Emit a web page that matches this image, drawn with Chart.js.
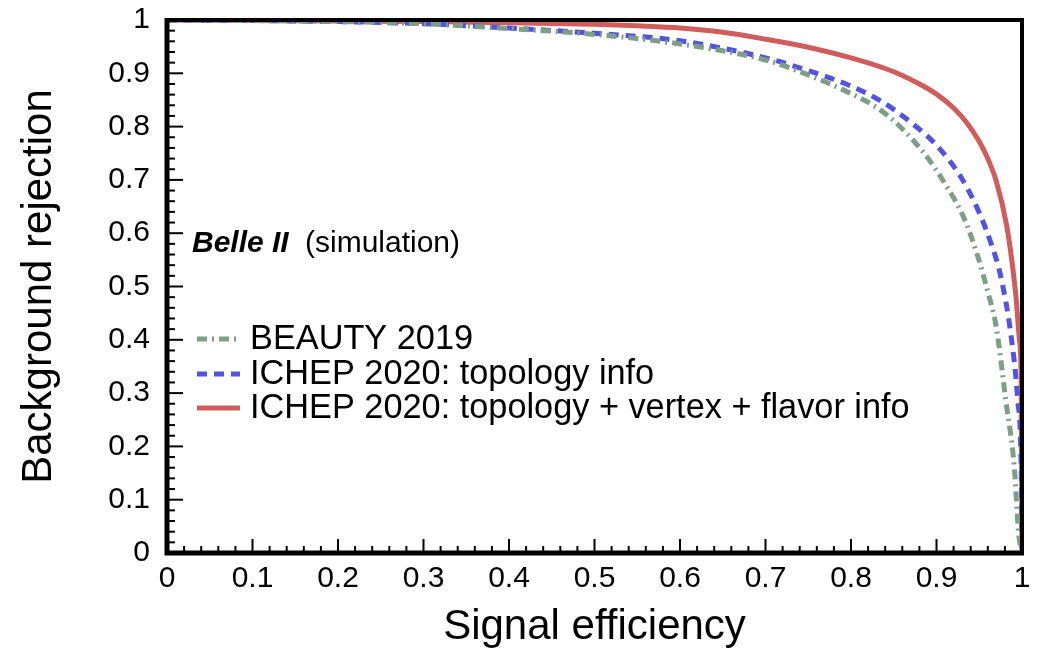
<!DOCTYPE html>
<html>
<head>
<meta charset="utf-8">
<script src="https://cdn.jsdelivr.net/npm/chart.js@4.4.1/dist/chart.umd.min.js"></script>
<style>
  html, body { margin: 0; padding: 0; background: #fff; }
  #wrap { width: 1052px; height: 653px; }
</style>
</head>
<body>
<div id="wrap"><canvas id="rocChart" width="1052" height="653"></canvas></div>
<script>
// Valores (eficiência de sinal x rejeição de fundo)
const effBeauty = [0, 0.1, 0.2, 0.3, 0.4, 0.5, 0.6, 0.7, 0.75, 0.8, 0.827, 0.85, 0.885, 0.913, 0.932, 0.948, 0.96, 0.97, 0.981, 0.991, 0.996, 1.0];
const rejBeauty = [1, 0.999, 0.997, 0.993, 0.984, 0.973, 0.955, 0.925, 0.897, 0.862, 0.839, 0.811, 0.751, 0.685, 0.629, 0.558, 0.49, 0.423, 0.287, 0.161, 0.037, 0];

const effTopo = [0, 0.1, 0.2, 0.3, 0.4, 0.5, 0.6, 0.7, 0.75, 0.8, 0.835, 0.87, 0.9, 0.929, 0.949, 0.964, 0.975, 0.987, 0.995, 0.999, 1.0];
const rejTopo = [1, 0.999, 0.997, 0.993, 0.985, 0.975, 0.961, 0.929, 0.905, 0.876, 0.848, 0.808, 0.765, 0.704, 0.642, 0.58, 0.52, 0.41, 0.287, 0.161, 0];

const effFull = [0, 0.1, 0.2, 0.3, 0.4, 0.5, 0.55, 0.6, 0.65, 0.7, 0.75, 0.8, 0.84, 0.86, 0.88, 0.9, 0.92, 0.935, 0.95, 0.96, 0.97, 0.982, 0.988, 0.993, 0.997, 0.999, 1.0];
const rejFull = [1, 0.999, 0.998, 0.997, 0.995, 0.992, 0.989, 0.985, 0.977, 0.964, 0.949, 0.929, 0.909, 0.896, 0.880, 0.861, 0.835, 0.808, 0.772, 0.74, 0.697, 0.615, 0.55, 0.48, 0.40, 0.33, 0];

const seriesLabels = ['BEAUTY 2019', 'ICHEP 2020: topology info', 'ICHEP 2020: topology + vertex + flavor info'];

const colors = {
    beauty: '#7d9f87',
    topo: '#5252e3',
    full: '#d15c5c',
    text: '#000'
};
const dashes = {
    beauty: [10, 5, 2, 5],
    topo: [10, 7],
    full: []
};
const FONT = '"Liberation Sans", Arial, Helvetica, sans-serif';

const toPoints = (xs, ys) => xs.map((x, i) => ({ x: x, y: ys[i] }));

// Moldura, ticks internos e legenda no estilo ROOT
const rootStyle = {
    id: 'rootStyle',
    afterDatasetsDraw(chart) {
        const { ctx, chartArea: a, scales: { x, y } } = chart;
        ctx.save();
        ctx.strokeStyle = '#000';
        ctx.lineCap = 'butt';

        // ticks menores a cada 0.02, maiores a cada 0.1
        ctx.lineWidth = 2;
        for (let i = 1; i < 50; i++) {
            const v = i / 50;
            const major = i % 5 === 0;
            const px = x.getPixelForValue(v);
            ctx.beginPath();
            ctx.moveTo(px, a.bottom);
            ctx.lineTo(px, a.bottom - (major ? 14 : 7));
            ctx.stroke();
            const py = y.getPixelForValue(v);
            ctx.beginPath();
            ctx.moveTo(a.left, py);
            ctx.lineTo(a.left + (major ? 16 : 8), py);
            ctx.stroke();
        }

        // moldura
        ctx.lineWidth = 4;
        ctx.beginPath();
        ctx.moveTo(a.left, a.top);
        ctx.lineTo(a.right, a.top);
        ctx.lineTo(a.right, a.bottom);
        ctx.stroke();
        ctx.lineWidth = 5;
        ctx.beginPath();
        ctx.moveTo(a.left, a.top - 2);
        ctx.lineTo(a.left, a.bottom);
        ctx.lineTo(a.right + 2, a.bottom);
        ctx.stroke();
        ctx.restore();
    },
    afterDraw(chart) {
        const { ctx } = chart;
        ctx.save();
        ctx.fillStyle = colors.text;
        ctx.textBaseline = 'alphabetic';

        ctx.font = 'italic bold 30px ' + FONT;
        ctx.fillText('Belle II', 192, 252);
        ctx.font = '30px ' + FONT;
        ctx.fillText('(simulation)', 305, 252);

        const rows = [
            { key: 'beauty', y: 349 },
            { key: 'topo', y: 384 },
            { key: 'full', y: 418 }
        ];
        ctx.font = '34.3px ' + FONT;
        rows.forEach((r, i) => {
            ctx.strokeStyle = colors[r.key];
            ctx.lineWidth = 5;
            ctx.setLineDash(dashes[r.key]);
            ctx.beginPath();
            ctx.moveTo(197, r.y - 10);
            ctx.lineTo(240, r.y - 10);
            ctx.stroke();
            ctx.setLineDash([]);
            ctx.fillText(seriesLabels[i], 250, r.y);
        });
        ctx.restore();
    }
};

const lineDataset = (label, xs, ys, key) => ({
    label: label,
    data: toPoints(xs, ys),
    showLine: true,
    borderColor: colors[key],
    backgroundColor: colors[key],
    borderWidth: 5,
    borderDash: dashes[key],
    pointRadius: 0,
    cubicInterpolationMode: 'monotone'
});

new Chart(document.getElementById('rocChart'), {
    type: 'scatter',
    data: {
        datasets: [
            lineDataset(seriesLabels[0], effBeauty, rejBeauty, 'beauty'),
            lineDataset(seriesLabels[1], effTopo, rejTopo, 'topo'),
            lineDataset(seriesLabels[2], effFull, rejFull, 'full')
        ]
    },
    options: {
        responsive: false,
        animation: false,
        events: [],
        layout: { padding: { top: 20, right: 30, left: 0, bottom: 0 } },
        plugins: {
            legend: { display: false },
            tooltip: { enabled: false }
        },
        scales: {
            x: {
                type: 'linear',
                min: 0,
                max: 1,
                afterFit: (scale) => {
                    scale.height = 100;
                    scale.paddingLeft = 0;
                    scale.paddingRight = 0;
                },
                grid: { display: false, drawTicks: false },
                border: { display: false },
                ticks: {
                    stepSize: 0.1,
                    padding: 8,
                    color: colors.text,
                    maxRotation: 0,
                    font: { family: FONT, size: 30 },
                    callback: (v) => String(Math.round(v * 10) / 10)
                },
                title: {
                    display: true,
                    text: 'Signal efficiency',
                    color: colors.text,
                    font: { family: FONT, size: 42 },
                    padding: { top: 0, bottom: 0 }
                }
            },
            y: {
                type: 'linear',
                min: 0,
                max: 1,
                afterFit: (scale) => {
                    scale.width = 167;
                    scale.paddingTop = 0;
                    scale.paddingBottom = 0;
                },
                grid: { display: false, drawTicks: false },
                border: { display: false },
                ticks: {
                    stepSize: 0.1,
                    padding: 17,
                    color: colors.text,
                    font: { family: FONT, size: 30 },
                    callback: (v) => String(Math.round(v * 10) / 10)
                },
                title: {
                    display: true,
                    text: 'Background rejection',
                    color: colors.text,
                    font: { family: FONT, size: 42 },
                    padding: { top: 14, bottom: 0 }
                }
            }
        }
    },
    plugins: [rootStyle]
});
</script>
</body>
</html>
